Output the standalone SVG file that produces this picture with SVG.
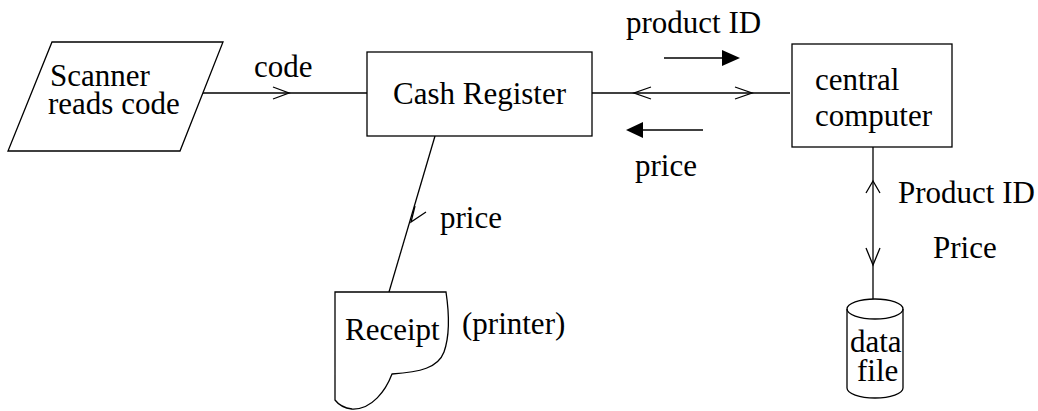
<svg xmlns="http://www.w3.org/2000/svg" width="1038" height="411" viewBox="0 0 1038 411">
<style>
.s{fill:#fff;stroke:#000;stroke-width:1.3}
.l{fill:none;stroke:#000;stroke-width:1.3}
text{font-family:"Liberation Serif","Times New Roman",serif;font-size:31px;fill:#000}
</style>
<defs>
<marker id="fa" markerWidth="10" markerHeight="10" refX="9" refY="5" orient="auto" markerUnits="userSpaceOnUse">
<path d="M0,0 L10,5 L0,10 Z" fill="#000"/>
</marker>
</defs>
<rect width="1038" height="411" fill="#fff"/>
<g id="connectors">
<line class="l" x1="202" y1="93" x2="367" y2="93"/>
<polyline class="l" points="273,87 289,93 273,99"/>
<line class="l" x1="592" y1="93" x2="790" y2="93"/>
<polyline class="l" points="651,87 634,93 651,99"/>
<polyline class="l" points="735,87 752,93 735,99"/>
<path d="M664,58 H722" stroke="#000" stroke-width="1.3"/>
<path d="M722,50 L740,58 L722,66 Z" fill="#000"/>
<path d="M643,130 H703" stroke="#000" stroke-width="1.3"/>
<path d="M643,122 L626,130 L643,138 Z" fill="#000"/>
<line class="l" x1="435" y1="136" x2="389" y2="292"/>
<polyline class="l" points="415,206 411,222 426,212"/>
<line class="l" x1="873" y1="147" x2="873" y2="299"/>
<polyline class="l" points="866,193 873,181 880,193"/>
<polyline class="l" points="866,248 873,265 880,248"/>
</g>
<g id="scanner">
<polygon class="s" points="52,42 223,42 180,151 8,151"/>
<text x="50" y="86">Scanner</text>
<text x="48" y="114">reads code</text>
</g>
<text x="254" y="77">code</text>
<g id="cash-register">
<rect class="s" x="367" y="52" width="225" height="84"/>
<text x="393" y="104">Cash Register</text>
</g>
<text x="626" y="33">product ID</text>
<text x="635" y="176">price</text>
<g id="central-computer">
<rect class="s" x="792" y="44" width="160" height="103"/>
<text x="815" y="90">central</text>
<text x="815" y="126">computer</text>
</g>
<text x="898" y="203">Product ID</text>
<text x="933" y="258">Price</text>
<text x="440" y="228">price</text>
<g id="receipt">
<path class="s" d="M335,292 L446,292 C449,312 450,335 444,352 C438,368 420,372 392,374 C386,390 372,410 352,409 C344,408 338,404 335,400 Z"/>
<text x="345" y="340">Receipt</text>
</g>
<text x="462" y="334">(printer)</text>
<g id="data-file">
<path class="s" d="M847,309 A28,10 0 0 1 903,309 L903,388 A28,10 0 0 1 847,388 Z"/>
<path class="l" d="M847,309 A28,10 0 0 0 903,309"/>
<text x="850" y="352">data</text>
<text x="857" y="381">file</text>
</g>
</svg>
